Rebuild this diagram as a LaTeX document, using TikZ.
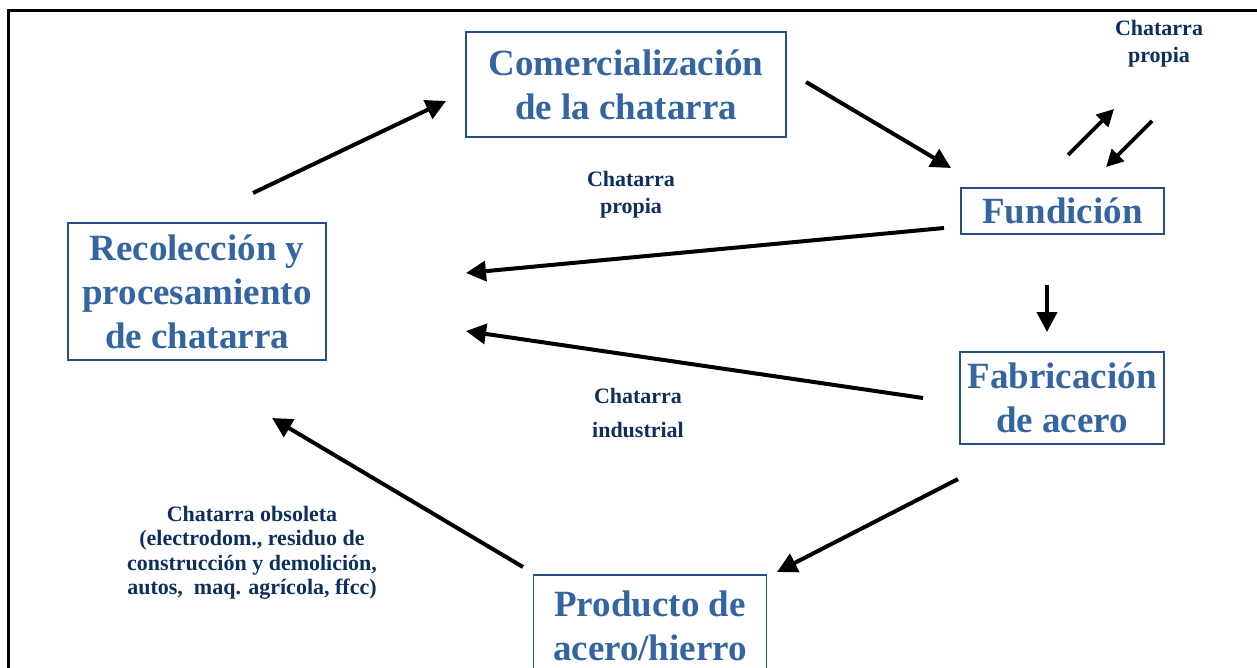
\documentclass[tikz,border=0pt]{standalone}
\usepackage{fontspec}
\setmainfont{Liberation Serif}
\usetikzlibrary{arrows.meta}
\definecolor{azulcaja}{RGB}{40,80,135}
\definecolor{azultexto}{RGB}{52,101,160}
\definecolor{azulosc}{RGB}{14,46,92}
\begin{document}
\begin{tikzpicture}[x=1pt,y=-1pt,
	caja/.style={draw=azulcaja, line width=1.6pt, text=azultexto, inner sep=0pt, align=center, font=\bfseries\fontsize{37}{44}\selectfont},
	etiq/.style={text=azulosc, inner sep=0pt, align=center, font=\bfseries\fontsize{22}{27}\selectfont},
	flecha/.style={line width=4pt, -{Triangle[length=20pt,width=20pt]}},
	flechita/.style={line width=3.6pt, -{Triangle[length=17pt,width=17pt]}}]
\useasboundingbox (0,0) rectangle (1257,667);
\draw[line width=2.2pt] (8.5,700) -- (8.5,10.5) -- (1290,10.5);
	\node[caja, minimum width=258, minimum height=137] (recol) at (197,291.5) {Recolección y\\procesamiento\\de chatarra};
	\node[caja, minimum width=320, minimum height=104.5] (comer) at (626,84.5) {Comercialización\\de la chatarra};
	\node[caja, minimum width=203, minimum height=46.5] (fund) at (1062.5,211) {Fundición};
	\node[caja, minimum width=204, minimum height=92] (fabr) at (1062,398) {Fabricación\\de acero};
	\node[caja, minimum width=233, minimum height=102] (prod) at (650,626) {Producto de\\acero/hierro};
	\node[etiq] (propiaA) at (1159,43.5) {Chatarra\\propia};
	\node[etiq] (propiaB) at (631,194.5) {Chatarra\\propia};
	\node[etiq] (indus) at (638,412.5) {Chatarra\\[7pt]industrial};
	\node[etiq, font=\bfseries\fontsize{22}{24.5}\selectfont] (obsol) at (252,553) {Chatarra obsoleta\\(electrodom., residuo de\\construcción y demolición,\\autos,\ \ maq. agrícola, ffcc)};
	\coordinate (r1) at (253,193); \coordinate (c1) at (446,101);
	\coordinate (c2) at (806,82); \coordinate (f2) at (951,168);
	\coordinate (f3) at (944,228); \coordinate (r3) at (466,273);
	\coordinate (a4) at (923,398); \coordinate (r4) at (466,331);
	\coordinate (f5) at (1047,285); \coordinate (a5) at (1047,332);
	\coordinate (a6) at (958,479); \coordinate (p6) at (777,572);
	\coordinate (p7) at (523,567); \coordinate (r7) at (272,418);
	\coordinate (s8) at (1068,155); \coordinate (t8) at (1114,109);
	\coordinate (s9) at (1152,121); \coordinate (t9) at (1106,167);
\draw[flecha] (r1)--(c1);
\draw[flecha] (c2)--(f2);
\draw[flecha] (f3)--(r3);
\draw[flecha] (a4)--(r4);
\draw[flecha] (f5)--(a5);
\draw[flecha] (a6)--(p6);
\draw[flecha] (p7)--(r7);
\draw[flechita] (s8)--(t8);
\draw[flechita] (s9)--(t9);
\end{tikzpicture}
\end{document}
